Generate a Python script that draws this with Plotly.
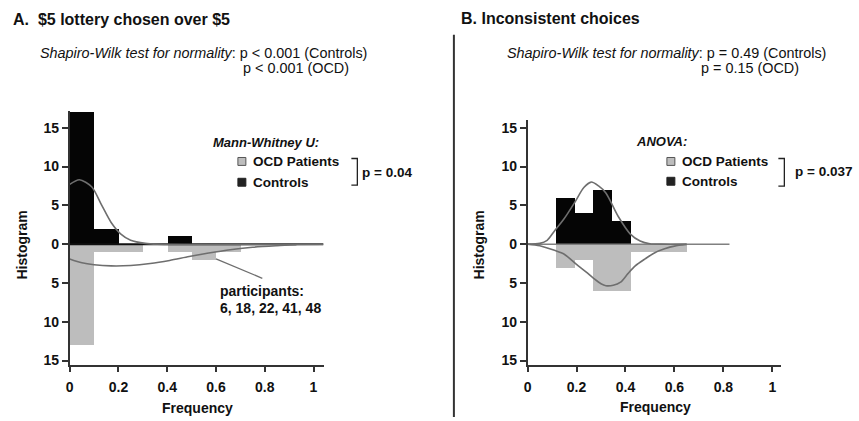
import plotly.graph_objects as go

# ---------------- data ----------------
# Panel A: $5 lottery chosen over $5 (bin width 0.1)
a_bin_left = [0.0, 0.1, 0.2, 0.3, 0.4, 0.5, 0.6]
a_bin_right = [0.1, 0.2, 0.3, 0.4, 0.5, 0.6, 0.7]
a_controls = [17, 2, 0, 0, 1, 0, 0]
a_ocd = [13, 1, 1, 0, 1, 2, 1]
a_ctrl_curve_x = [0.0, 0.04, 0.09, 0.13, 0.17, 0.21, 0.25, 0.31, 0.36, 1.04]
a_ctrl_curve_y = [7.7, 8.3, 7.4, 5.1, 2.8, 1.3, 0.5, 0.1, 0.0, 0.0]
a_ocd_curve_x = [0.0, 0.05, 0.10, 0.17, 0.25, 0.33, 0.41, 0.49, 0.57, 0.65, 0.75, 0.85, 0.93]
a_ocd_curve_y = [1.9, 2.4, 2.65, 2.8, 2.75, 2.5, 2.1, 1.6, 1.15, 0.75, 0.4, 0.2, 0.08]

# Panel B: Inconsistent choices
b_bin_edges = [0.114, 0.19, 0.267, 0.343, 0.42, 0.496, 0.573, 0.65]
b_controls = [6, 4, 7, 3, 0, 0, 0]
b_ocd = [3, 2, 6, 6, 1, 1, 1]
b_ctrl_curve_x = [0.0, 0.05, 0.08, 0.11, 0.15, 0.195, 0.23, 0.26, 0.29, 0.32, 0.37, 0.42, 0.46, 0.50, 0.55, 0.65]
b_ctrl_curve_y = [0.0, 0.1, 0.5, 1.7, 3.3, 5.5, 7.3, 8.0, 7.5, 6.6, 3.6, 1.3, 0.4, 0.05, 0.0, 0.0]
b_ocd_curve_x = [0.0, 0.05, 0.11, 0.15, 0.20, 0.24, 0.27, 0.30, 0.32, 0.35, 0.38, 0.41, 0.44, 0.48, 0.52, 0.56, 0.60, 0.65]
b_ocd_curve_y = [0.0, 0.2, 0.8, 1.3, 2.6, 3.6, 4.4, 5.1, 5.35, 5.3, 4.9, 3.8, 2.8, 1.9, 1.1, 0.6, 0.25, 0.05]

tick_vals = [-15, -10, -5, 0, 5, 10, 15]
tick_text = ["15", "10", "5", "0", "5", "10", "15"]
x_ticks = [0, 0.2, 0.4, 0.6, 0.8, 1]
x_ticktext = ["0", "0.2", "0.4", "0.6", "0.8", "1"]

# ---------------- figure ----------------
W, H = 859, 421
FONT = "Liberation Sans, Arial, sans-serif"
BLACK = "#050505"
GRAY = "#bdbdbd"
CURVE = "#6e6e6e"


def px(x):
    return x / W


def py(y):
    return 1 - y / H


fig = go.Figure()


def add_bars(xref, yref, lefts, rights, ctrl, ocd):
    centers = [(l + r) / 2 for l, r in zip(lefts, rights)]
    widths = [r - l for l, r in zip(lefts, rights)]
    fig.add_trace(go.Bar(x=centers, y=ctrl, width=widths, base=0,
                         marker=dict(color=BLACK, line=dict(width=0)),
                         xaxis=xref, yaxis=yref, showlegend=False, hoverinfo="skip"))
    fig.add_trace(go.Bar(x=centers, y=[-v for v in ocd], width=widths, base=0,
                         marker=dict(color=GRAY, line=dict(width=0)),
                         xaxis=xref, yaxis=yref, showlegend=False, hoverinfo="skip"))


add_bars("x", "y", a_bin_left, a_bin_right, a_controls, a_ocd)
add_bars("x2", "y2", b_bin_edges[:-1], b_bin_edges[1:], b_controls, b_ocd)

# zero lines
fig.add_trace(go.Scatter(x=[0, 1.041], y=[0, 0], mode="lines", line=dict(color="#111", width=2),
                         xaxis="x", yaxis="y", showlegend=False, hoverinfo="skip"))
fig.add_trace(go.Scatter(x=[0, 0.825], y=[0, 0], mode="lines", line=dict(color="#808080", width=1.5),
                         xaxis="x2", yaxis="y2", showlegend=False, hoverinfo="skip"))

# density curves
for xs, ys, sign, xa, ya in [
    (a_ctrl_curve_x, a_ctrl_curve_y, 1, "x", "y"),
    (a_ocd_curve_x, a_ocd_curve_y, -1, "x", "y"),
    (b_ctrl_curve_x, b_ctrl_curve_y, 1, "x2", "y2"),
    (b_ocd_curve_x, b_ocd_curve_y, -1, "x2", "y2"),
]:
    fig.add_trace(go.Scatter(x=xs, y=[sign * v for v in ys], mode="lines",
                             line=dict(color=CURVE, width=1.6, shape="spline", smoothing=0.8),
                             xaxis=xa, yaxis=ya, showlegend=False, hoverinfo="skip"))

# pointer line to participants
fig.add_trace(go.Scatter(x=[0.60, 0.79], y=[-1.9, -4.4], mode="lines",
                         line=dict(color=CURVE, width=1.3),
                         xaxis="x", yaxis="y", showlegend=False, hoverinfo="skip"))

axis_common = dict(showgrid=False, zeroline=False, showline=True, linecolor="#333", linewidth=1.5,
                   ticks="outside", ticklen=6, tickwidth=1.5, tickcolor="#333",
                   tickfont=dict(family=FONT, size=14, color="#111", weight="bold"))

fig.update_layout(
    width=W, height=H, autosize=False,
    margin=dict(l=0, r=0, t=0, b=0),
    paper_bgcolor="white", plot_bgcolor="rgba(0,0,0,0)",
    barmode="overlay", bargap=0,
    xaxis=dict(domain=[px(66), px(321)], range=[0, 1.041], tickvals=x_ticks, ticktext=x_ticktext,
               anchor="y", ticklabelstandoff=3, **axis_common),
    yaxis=dict(domain=[py(368), py(112)], range=[-15.51, 17.17], tickvals=tick_vals, ticktext=tick_text,
               anchor="x", **axis_common),
    xaxis2=dict(domain=[px(526), px(781)], range=[0, 1.037], tickvals=x_ticks, ticktext=x_ticktext,
                anchor="y2", ticklabelstandoff=3, **axis_common),
    yaxis2=dict(domain=[py(368), py(121)], range=[-15.51, 16.02], tickvals=tick_vals, ticktext=tick_text,
                anchor="x2", **axis_common),
)

ann = []


def text(x, y, s, size=14, bold=True, italic=False, xanchor="left", angle=0):
    ann.append(dict(x=px(x), y=py(y), xref="paper", yref="paper", text=s, showarrow=False,
                    xanchor=xanchor, yanchor="middle", textangle=angle,
                    font=dict(family=FONT, size=size, color="#111",
                              weight="bold" if bold else "normal",
                              style="italic" if italic else "normal")))


# titles
text(7, 20, "A.  $5 lottery chosen over $5", size=16)
text(457, 19, "B. Inconsistent choices", size=16)

# Shapiro-Wilk lines
text(34, 54, "<i>Shapiro-Wilk test for normality</i>: p &lt; 0.001 (Controls)", size=14.4, bold=False)
text(238, 69, "p &lt; 0.001 (OCD)", size=14.4, bold=False)
text(503, 54, "<i>Shapiro-Wilk test for normality</i>: p = 0.49 (Controls)", size=14.4, bold=False)
text(698, 69, "p = 0.15 (OCD)", size=14.4, bold=False)

# legends
text(208, 144, "Mann-Whitney U:", size=13, italic=True)
text(248, 163, "OCD Patients", size=13.5)
text(248, 184, "Controls", size=13.5)
text(358, 174, "p = 0.04", size=13.5)

text(633, 143, "ANOVA:", size=13, italic=True)
text(679, 163, "OCD Patients", size=13.5)
text(679, 183, "Controls", size=13.5)
text(793, 173, "p = 0.037", size=13.5)

# participants note
text(215, 294, "participants:", size=14)
text(215, 311, "6, 18, 22, 41, 48", size=14)

# axis titles
text(194, 412, "Frequency", size=14, xanchor="center")
text(655, 411, "Frequency", size=14, xanchor="center")
text(18, 247, "Histogram", size=14, xanchor="center", angle=-90)
text(477, 247, "Histogram", size=14, xanchor="center", angle=-90)

fig.update_layout(annotations=ann)

shapes = []


def rect(x0, y0, x1, y1, fill, line):
    shapes.append(dict(type="rect", xref="paper", yref="paper", x0=px(x0), x1=px(x1),
                       y0=py(y1), y1=py(y0), fillcolor=fill, line=dict(color=line, width=1)))


# legend squares
rect(235, 159, 243, 167, GRAY, "#555")
rect(235, 180, 243, 188, "#222", "#222")
rect(666, 159, 674, 167, GRAY, "#555")
rect(666, 179, 674, 187, "#222", "#222")


def bracket(x0, x1, y0, y1):
    path = f"M {px(x0)} {py(y0)} L {px(x1)} {py(y0)} L {px(x1)} {py(y1)} L {px(x0)} {py(y1)}"
    shapes.append(dict(type="path", xref="paper", yref="paper", path=path,
                       line=dict(color="#222", width=1.3)))


bracket(349, 355, 160, 187)
bracket(778, 784, 160, 188)

# separator
shapes.append(dict(type="line", xref="paper", yref="paper", x0=px(452), x1=px(452),
                   y0=py(35), y1=py(421), line=dict(color="#333", width=2)))

fig.update_layout(shapes=shapes)

fig.write_html("out.html",
               config={"displayModeBar": False},
               post_script="document.body.style.margin='0';document.body.style.padding='0';")
